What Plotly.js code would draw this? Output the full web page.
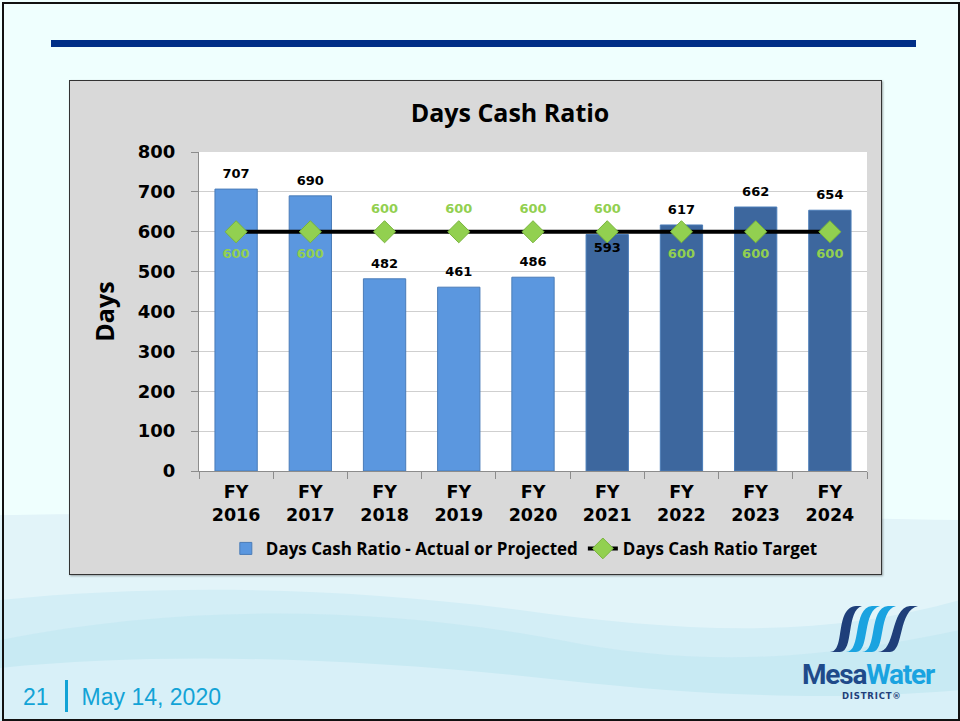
<!DOCTYPE html>
<html>
<head>
<meta charset="utf-8">
<script src="https://cdn.plot.ly/plotly-3.0.1.min.js"></script>
<style>
  html, body { margin:0; padding:0; }
  body { width:960px; height:721px; overflow:hidden; background:#effffe; position:relative; font-family:"Liberation Sans", Arial, sans-serif; }
  #frame { position:absolute; left:2px; top:2px; width:954px; height:715px; border:2px solid #111; box-sizing:content-box; }
  #bg { position:absolute; left:0; top:0; }
  #topbar { position:absolute; left:51px; top:40px; width:865px; height:7px; background:#002f87; }
  #chartbox { position:absolute; left:69px; top:80px; width:811px; height:493px; border:1px solid #333; box-shadow:1px 1px 2px rgba(0,0,0,0.35); background:#d9d9d9; }
  #chart { width:811px; height:493px; }
  #footer { position:absolute; left:23px; top:680px; font-size:23px; line-height:30px; color:#12a3d6; font-family:"Liberation Sans", Arial, sans-serif; white-space:nowrap; }
  #footer .sep { display:inline-block; width:3px; height:32px; background:#12a3d6; vertical-align:-7px; margin:0 14px 0 16px; }
</style>
</head>
<body>
<svg id="bg" width="960" height="721" viewBox="0 0 960 721">
  <path d="M0,515 C200,512 500,512 960,520 L960,721 L0,721 Z" fill="#e2f4f9"/>
  <path d="M0,600 C150,585 330,585 520,610 C680,632 820,640 960,600 L960,721 L0,721 Z" fill="#d3eef6"/>
  <path d="M0,640 C200,600 400,610 560,640 C700,668 820,660 960,630 L960,721 L0,721 Z" fill="#c5e8f3" opacity="0.8"/>
  <path d="M0,668 C180,650 380,660 560,680 C720,698 850,700 960,690 L960,721 L0,721 Z" fill="#d8f0f8"/>
</svg>
<div id="frame"></div>
<div id="topbar"></div>
<div id="chartbox"><div id="chart"></div></div>
<div id="footer">21<span class="sep"></span>May 14, 2020</div>
<svg style="position:absolute;left:800px;top:600px" width="160" height="110" viewBox="0 0 160 110">
  <path d="M30,52 C46,52 34,8 56,6 L62,6 C46,10 54,52 40,52 Z" fill="#1f3f7a"/>
  <path d="M46,52 C62,52 52,8 72,6 L80,6 C62,10 70,52 56,52 Z" fill="#1aa3e0"/>
  <path d="M62,52 C78,52 68,8 88,6 L96,6 C78,10 86,52 72,52 Z" fill="#1aa3e0"/>
  <path d="M78,52 C96,52 90,8 110,6 L118,6 C98,10 104,52 90,52 Z" fill="#1f3f7a"/>
  <text x="2" y="84" font-family="Roboto, 'Liberation Sans'" font-weight="bold" font-size="28" letter-spacing="-1.2"><tspan fill="#1f4a8a">Mesa</tspan><tspan fill="#1aa3e0">Water</tspan></text>
  <text x="42" y="99" font-family="'DejaVu Sans'" font-weight="bold" font-size="8.5" fill="#1f3f7a" letter-spacing="0.8">DISTRICT®</text>
</svg>
<script>
const categories = ["FY<br>2016","FY<br>2017","FY<br>2018","FY<br>2019","FY<br>2020","FY<br>2021","FY<br>2022","FY<br>2023","FY<br>2024"];
const actualDays = [707, 690, 482, 461, 486, 593, 617, 662, 654];
const targetDays = [600, 600, 600, 600, 600, 600, 600, 600, 600];
const barColors = ["#5b97df","#5b97df","#5b97df","#5b97df","#5b97df","#3d679e","#3d679e","#3d679e","#3d679e"];
const barLabelPos = ["top center","top center","top center","top center","top center","bottom center","top center","top center","top center"];
const targetLabelPos = ["bottom center","bottom center","top center","top center","top center","top center","bottom center","bottom center","bottom center"];

const barTrace = {
  type: "bar", x: categories, y: actualDays,
  name: "Days Cash Ratio - Actual or Projected",
  width: 0.57,
  marker: { color: barColors, line: { color: "#4a7cb8", width: 1 } },
  hoverinfo: "skip"
};
const barLabelTrace = {
  type: "scatter", mode: "markers+text", x: categories, y: actualDays,
  showlegend: false,
  marker: { size: 11, color: "rgba(0,0,0,0)", line: { width: 0 } },
  text: actualDays.map(String), textposition: barLabelPos,
  textfont: { family: "DejaVu Sans", size: 13, color: "#000", weight: "bold" },
  cliponaxis: false, hoverinfo: "skip"
};
const lineTrace = {
  type: "scatter", mode: "lines+markers", x: categories, y: targetDays,
  name: "Days Cash Ratio Target",
  line: { color: "#000", width: 4 },
  marker: { symbol: "diamond", size: 17, color: "#92d050", line: { color: "#78b43c", width: 1 } },
  cliponaxis: false, hoverinfo: "skip"
};
const targetLabelTrace = {
  type: "scatter", mode: "markers+text", x: categories, y: targetDays,
  showlegend: false,
  marker: { size: 24, color: "rgba(0,0,0,0)", line: { width: 0 } },
  text: targetDays.map(String), textposition: targetLabelPos,
  textfont: { family: "DejaVu Sans", size: 13, color: "#92d050", weight: "bold" },
  cliponaxis: false, hoverinfo: "skip"
};

const layout = {
  width: 811, height: 493,
  margin: { l: 129, r: 14, t: 71, b: 103 },
  paper_bgcolor: "#d9d9d9", plot_bgcolor: "#ffffff",
  showlegend: true,
  title: { text: "Days Cash Ratio", x: 0.4656, xref: "paper", xanchor: "center", y: 0.935, yref: "container", yanchor: "middle",
           font: { family: "Open Sans", size: 25, color: "#000", weight: "bold" } },
  xaxis: {
    type: "category", range: [-0.5, 8.5], tickson: "boundaries", ticks: "outside", ticklen: 7, tickcolor: "#8c8c8c",
    showline: true, linecolor: "#8c8c8c", linewidth: 1, showgrid: false, automargin: false,
    tickfont: { family: "DejaVu Sans", size: 17.5, color: "#000", weight: "bold" },
    ticklabelstandoff: 5, fixedrange: true
  },
  yaxis: {
    range: [0, 800], dtick: 100, tick0: 0, automargin: false,
    showgrid: true, gridcolor: "#cfcfcf", gridwidth: 1,
    ticks: "outside", ticklen: 7, tickcolor: "#8c8c8c",
    showline: true, linecolor: "#8c8c8c", linewidth: 1, zeroline: false,
    tickfont: { family: "DejaVu Sans", size: 18, color: "#000", weight: "bold" },
    ticklabelstandoff: 12,
    title: { text: "Days", standoff: 16, font: { family: "Open Sans", size: 25, color: "#000", weight: "bold" } },
    fixedrange: true
  },
  legend: {
    orientation: "h", x: 0.487, xanchor: "center", xref: "paper",
    y: 0.051, yref: "container", yanchor: "middle",
    bgcolor: "rgba(0,0,0,0)", font: { family: "Open Sans", size: 17, color: "#000", weight: "bold" },
    itemwidth: 30, tracegroupgap: 0
  },
  bargap: 0.43
};
Plotly.newPlot("chart", [barTrace, lineTrace, barLabelTrace, targetLabelTrace], layout, { displayModeBar: false, staticPlot: true });
</script>
</body>
</html>
